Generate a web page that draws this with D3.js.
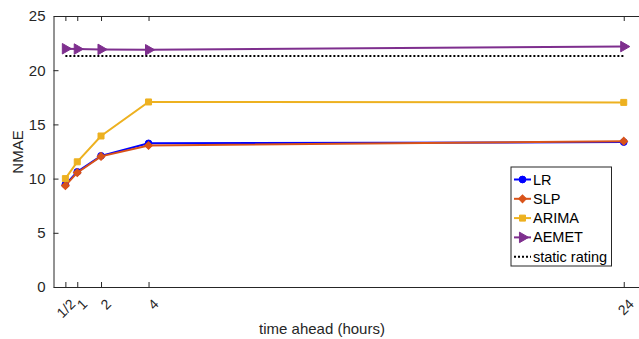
<!DOCTYPE html>
<html>
<head>
<meta charset="utf-8">
<script src="https://cdn.jsdelivr.net/npm/d3@7"></script>
<style>
  html, body { margin: 0; padding: 0; background: #fff; }
  svg { display: block; font-family: "Liberation Sans", Arial, sans-serif; }
</style>
</head>
<body>
<svg id="chart" width="639" height="339"></svg>
<script>
// Forecast horizon (hours) and their tick labels
const hours = [0.5, 1, 2, 4, 24];
const hourLabels = ["1/2", "1", "2", "4", "24"];

// NMAE per model at each horizon
const lrValues     = [9.45, 10.62, 12.1, 13.25, 13.37];
const slpValues    = [9.35, 10.55, 12.05, 13.05, 13.45];
const arimaValues  = [10.0, 11.55, 13.93, 17.07, 17.03];
const aemetValues  = [21.98, 21.95, 21.92, 21.88, 22.18];
const staticValues = [21.3, 21.3, 21.3, 21.3, 21.3];

const yTicks = [0, 5, 10, 15, 20, 25];

const series = [
  { name: "LR",    values: lrValues,    color: "#0000FF", marker: d3.symbolCircle,   size: 36 },
  { name: "SLP",   values: slpValues,   color: "#D95319", marker: d3.symbolSquare,   size: 30, rotate: 45 },
  { name: "ARIMA", values: arimaValues, color: "#EDB120", marker: d3.symbolSquare,   size: 36 },
  { name: "AEMET", values: aemetValues, color: "#7E2F8E", marker: d3.symbolTriangle, size: 48, rotate: 90 }
];

const svg = d3.select("#chart");
const axisColor = "#262626";

const x = d3.scaleLinear().domain([0, 25]).range([53.5, 647.5]);
const y = d3.scaleLinear().domain([0, 25]).range([287, 16]);

// Axes: left and bottom with inward ticks, plus the top frame line
const gBottom = svg.append("g").attr("transform", `translate(0,${y(0)})`)
  .call(d3.axisBottom(x).tickValues(hours).tickFormat("").tickSizeInner(-5).tickSizeOuter(0));
const gTop = svg.append("g").attr("transform", `translate(0,${y(25)})`)
  .call(d3.axisTop(x).tickValues(hours).tickFormat("").tickSizeInner(-5).tickSizeOuter(0));
const gLeft = svg.append("g").attr("transform", `translate(${x(0)},0)`)
  .call(d3.axisLeft(y).tickValues(yTicks).tickSizeInner(-5).tickSizeOuter(0).tickPadding(8));

[gBottom, gTop, gLeft].forEach(g => {
  g.select(".domain").attr("stroke", axisColor).attr("stroke-width", 1);
  g.selectAll(".tick line").attr("stroke", axisColor).attr("stroke-width", 1);
});
gLeft.selectAll(".tick text")
  .attr("fill", axisColor).attr("font-size", 15).attr("font-family", "Liberation Sans, Arial, sans-serif");

// Rotated x tick labels
svg.append("g").selectAll("text").data(hours).join("text")
  .attr("transform", d => `translate(${x(d) + 4},${y(0) + 11}) rotate(-45)`)
  .attr("text-anchor", "end")
  .attr("dy", "0.7em")
  .attr("font-size", 14)
  .attr("fill", axisColor)
  .text((d, i) => hourLabels[i]);

// Axis titles
svg.append("text")
  .attr("x", 322).attr("y", 334)
  .attr("text-anchor", "middle").attr("font-size", 15).attr("fill", axisColor)
  .text("time ahead (hours)");
svg.append("text")
  .attr("transform", `translate(23,152) rotate(-90)`)
  .attr("text-anchor", "middle").attr("font-size", 15).attr("fill", axisColor)
  .text("NMAE");

const line = d3.line().x((d, i) => x(hours[i])).y(d => y(d));

// Model series
series.forEach(s => {
  svg.append("path").datum(s.values)
    .attr("d", line).attr("fill", "none")
    .attr("stroke", s.color).attr("stroke-width", 2);
  svg.append("g").selectAll("path").data(s.values).join("path")
    .attr("d", d3.symbol().type(s.marker).size(s.size))
    .attr("transform", (d, i) => `translate(${x(hours[i])},${y(d)}) rotate(${s.rotate || 0})`)
    .attr("fill", s.color).attr("stroke", s.color).attr("stroke-width", 1);
});

// Static rating reference
svg.append("path").datum(staticValues)
  .attr("d", line).attr("fill", "none")
  .attr("stroke", "#000").attr("stroke-width", 2).attr("stroke-dasharray", "2,2");

// Legend
const legend = svg.append("g").attr("transform", "translate(511,167)");
legend.append("rect").attr("width", 100.5).attr("height", 99)
  .attr("fill", "#fff").attr("stroke", axisColor).attr("stroke-width", 1);
const entries = series.map(s => ({ ...s })).concat([{ name: "static rating", color: "#000", dashed: true }]);
entries.forEach((e, i) => {
  const cy = 12.5 + i * 19.3;
  const row = legend.append("g").attr("transform", `translate(0,${cy})`);
  row.append("line").attr("x1", 3).attr("x2", 20).attr("y1", 0).attr("y2", 0)
    .attr("stroke", e.color).attr("stroke-width", 2)
    .attr("stroke-dasharray", e.dashed ? "2,2" : null);
  if (e.marker) {
    row.append("path").attr("d", d3.symbol().type(e.marker).size(e.size))
      .attr("transform", `translate(11.5,0) rotate(${e.rotate || 0})`)
      .attr("fill", e.color).attr("stroke", e.color);
  }
  row.append("text").attr("x", 22).attr("y", 0).attr("dy", "0.35em")
    .attr("font-size", 14.5).attr("fill", "#000").text(e.name);
});
</script>
</body>
</html>
